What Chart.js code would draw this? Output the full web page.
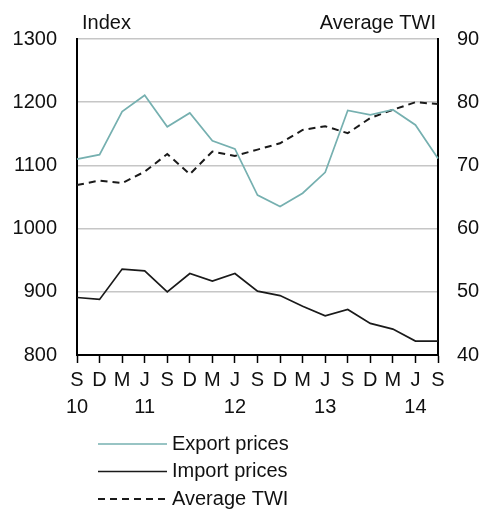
<!DOCTYPE html>
<html>
<head>
<meta charset="utf-8">
<script src="https://cdn.jsdelivr.net/npm/chart.js@4"></script>
<style>
html,body{margin:0;padding:0;background:#fff;}
canvas{display:block;}
</style>
</head>
<body>
<canvas id="c" width="485" height="510"></canvas>
<script>
const months = ['S','D','M','J','S','D','M','J','S','D','M','J','S','D','M','J','S'];
const years  = ['10','','','11','','','','12','','','','13','','','','14',''];
const exportPrices = [1110,1117,1185,1211,1161,1183,1139,1126,1053,1035,1056,1089,1187,1180,1188,1164,1111];
const importPrices = [891,888,936,933,900,929,917,929,901,894,877,862,872,850,841,822,822];
const averageTWI   = [66.9,67.6,67.2,69.0,71.8,68.6,72.2,71.5,72.5,73.5,75.6,76.2,75.1,77.5,78.8,80.0,79.7];
const leftTicks = [800,900,1000,1100,1200,1300];
const rightTicks = [40,50,60,70,80,90];

const labels = months.map((m, i) => [m, years[i]]);
const FONT = "'Liberation Sans', Arial, sans-serif";
const TEXT = '#111';

const extras = {
  id: 'extras',
  afterDraw(chart) {
    const ctx = chart.ctx;
    const ca = chart.chartArea;
    ctx.save();
    ctx.fillStyle = TEXT;
    ctx.font = '20px ' + FONT;
    ctx.textBaseline = 'middle';
    ctx.textAlign = 'left';
    ctx.fillText('Index', ca.left + 5, 23);
    ctx.textAlign = 'right';
    ctx.fillText('Average TWI', ca.right - 2, 23);
    // legend
    const rowsY = [444, 471.5, 499];
    chart.data.datasets.forEach((ds, i) => {
      const y = rowsY[i];
      ctx.beginPath();
      ctx.strokeStyle = ds.borderColor;
      ctx.lineWidth = ds.borderWidth;
      ctx.setLineDash(ds.borderDash || []);
      ctx.moveTo(98, y);
      ctx.lineTo(167, y);
      ctx.stroke();
      ctx.setLineDash([]);
      ctx.textAlign = 'left';
      ctx.fillStyle = TEXT;
      ctx.fillText(ds.label, 172, y);
    });
    ctx.restore();
  }
};

new Chart(document.getElementById('c'), {
  type: 'line',
  data: {
    labels: labels,
    datasets: [
      { label: 'Export prices', data: exportPrices, yAxisID: 'y', borderColor: '#76b0b0', borderWidth: 1.7, pointRadius: 0, tension: 0, fill: false },
      { label: 'Import prices', data: importPrices, yAxisID: 'y', borderColor: '#1a1a1a', borderWidth: 1.7, pointRadius: 0, tension: 0, fill: false },
      { label: 'Average TWI', data: averageTWI, yAxisID: 'y2', borderColor: '#1a1a1a', borderWidth: 2, borderDash: [7, 5], pointRadius: 0, tension: 0, fill: false }
    ]
  },
  options: {
    responsive: false,
    animation: false,
    devicePixelRatio: 1,
    layout: { padding: { top: 39, bottom: 95, left: 0, right: 0 } },
    plugins: { legend: { display: false }, tooltip: { enabled: false } },
    scales: {
      x: {
        type: 'category',
        offset: false,
        grid: { display: true, drawOnChartArea: false, drawTicks: true, tickLength: 8, tickColor: '#000', tickWidth: 1.5 },
        border: { display: true, color: '#000', width: 2 },
        ticks: { autoSkip: false, maxRotation: 0, minRotation: 0, padding: 4, color: TEXT, font: { family: FONT, size: 20, lineHeight: 1.35 } },
        afterFit: s => { s.height = 60; }
      },
      y: {
        position: 'left',
        min: 800, max: 1300,
        afterBuildTicks: s => { s.ticks = leftTicks.map(v => ({ value: v })); },
        grid: { color: '#c6c6c6', lineWidth: 1.5, drawTicks: false },
        border: { display: true, color: '#000', width: 2 },
        ticks: { padding: 20, color: TEXT, font: { family: FONT, size: 20 }, callback: v => String(v) },
        afterFit: s => { s.width = 77; }
      },
      y2: {
        position: 'right',
        min: 40, max: 90,
        afterBuildTicks: s => { s.ticks = rightTicks.map(v => ({ value: v })); },
        grid: { drawOnChartArea: false, drawTicks: false },
        border: { display: true, color: '#000', width: 2 },
        ticks: { padding: 19, color: TEXT, font: { family: FONT, size: 20 }, callback: v => String(v) },
        afterFit: s => { s.width = 47; }
      }
    }
  },
  plugins: [extras]
});
</script>
</body>
</html>
